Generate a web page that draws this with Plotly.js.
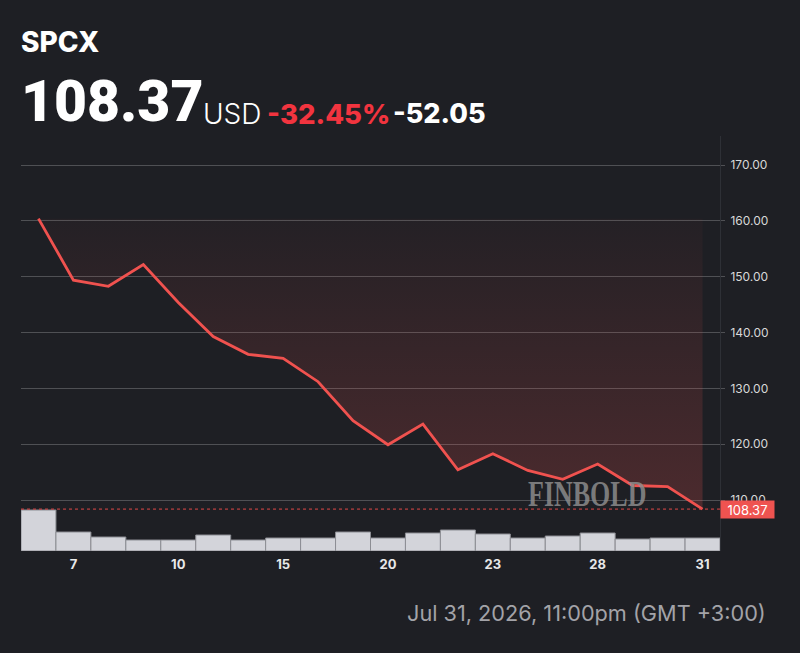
<!DOCTYPE html>
<html>
<head>
<meta charset="utf-8">
<script src="https://cdn.plot.ly/plotly-3.0.1.min.js"></script>
<style>
  html, body { margin: 0; padding: 0; background: #1e1f24; }
  #chart { width: 800px; height: 653px; }
</style>
</head>
<body>
<div id="chart"></div>
<script>
// ---- data ----
const ticker = 'SPCX';
const days = ['6','7','8','9','10','13','14','15','16','17','20','21','22','23','24','27','28','29','30','31'];
const price = [160.42, 149.4, 148.3, 152.2, 145.4, 139.3, 136.1, 135.4, 131.2, 124.2,
               119.9, 123.6, 115.4, 118.3, 115.3, 113.7, 116.45, 112.6, 112.4, 108.37];
const volume = [4.1, 1.9, 1.4, 1.1, 1.1, 1.6, 1.1, 1.3, 1.3, 1.9,
                1.3, 1.8, 2.1, 1.7, 1.3, 1.5, 1.8, 1.2, 1.3, 1.3];
const xTickLabels = ['7','10','15','20','23','28','31'];
const yTickValues = [110, 120, 130, 140, 150, 160, 170];
const lastPrice = '108.37';
const changePct = '-32.45%';
const changeAbs = '-52.05';
const currency = 'USD';
const timestamp = 'Jul 31, 2026, 11:00pm (GMT +3:00)';
const watermark = 'FINBOLD';

// ---- layout helpers (pixel -> paper) ----
const M = {l: 21, r: 80, t: 136, b: 102};
const W = 800, H = 653;
const PW = W - M.l - M.r, PH = H - M.t - M.b;
const px = x => (x - M.l) / PW;
const py = y => (H - M.b - y) / PH;

const pMax = Math.max(...price), pMin = Math.min(...price);
const RED = '#f0524f';
const BG = '#1e1f24';

const traces = [
  {
    x: days, y: days.map(() => pMax), type: 'scatter', mode: 'lines',
    line: {width: 0, color: 'rgba(0,0,0,0)'}, hoverinfo: 'skip'
  },
  {
    x: days, y: price, type: 'scatter', mode: 'lines',
    line: {color: RED, width: 2.8},
    fill: 'tonexty',
    fillcolor: 'rgba(239,83,80,0.12)',
    fillgradient: {
      type: 'vertical',
      start: pMin, stop: pMax,
      colorscale: [[0, 'rgba(239,83,80,0.22)'], [1, 'rgba(239,83,80,0.03)']]
    }
  },
  {
    x: days, y: volume, type: 'bar', yaxis: 'y2',
    marker: {color: '#d3d4da', line: {color: '#8c8d93', width: 1}}
  }
];

const layout = {
  width: W, height: H,
  margin: M,
  paper_bgcolor: BG, plot_bgcolor: BG,
  showlegend: false,
  bargap: 0,
  font: {family: 'Inter, "Noto Sans", sans-serif', color: '#e0e0e0'},
  xaxis: {
    type: 'category', range: [-0.5, days.length - 0.5],
    tickvals: xTickLabels, ticktext: xTickLabels,
    showgrid: false, zeroline: false, showline: false, ticks: '',
    ticklabelstandoff: 4,
    tickfont: {family: 'Inter, sans-serif', size: 13, color: '#e8e8e8', weight: 700}
  },
  yaxis: {
    side: 'right', range: [100.86, 175.23],
    tickvals: yTickValues, tickformat: '.2f',
    showgrid: true, gridcolor: 'rgba(255,255,255,0.22)', gridwidth: 1,
    zeroline: false,
    ticks: 'outside', ticklen: 4, tickcolor: 'rgba(255,255,255,0.22)',
    ticklabelstandoff: 3,
    showline: true, linecolor: '#2e3036', linewidth: 1,
    tickfont: {family: 'Inter, sans-serif', size: 12, color: '#d8d8d8'}
  },
  yaxis2: {
    overlaying: 'y', range: [0, 41.5], visible: false, fixedrange: true
  },
  shapes: [
    {type: 'line', xref: 'paper', x0: 0, x1: 1, yref: 'y', y0: +lastPrice, y1: +lastPrice,
     line: {color: '#e04848', width: 1, dash: 'dot'}}
  ],
  annotations: [
    {text: watermark, xref: 'paper', yref: 'paper', x: px(587), y: py(494),
     xanchor: 'center', yanchor: 'middle', showarrow: false,
     font: {family: '"Liberation Serif", "DejaVu Serif", serif', size: 26, weight: 700, color: 'rgba(140,140,140,0.85)'}},
    {text: lastPrice, xref: 'paper', yref: 'y', x: 1, y: +lastPrice,
     xanchor: 'left', yanchor: 'middle', showarrow: false,
     bgcolor: '#ef5350', borderpad: 2, width: 49, height: 13, align: 'center',
     font: {family: 'Inter, sans-serif', size: 13, color: '#ffffff'}},
    {text: ticker, xref: 'paper', yref: 'paper', x: px(19), y: py(42),
     xanchor: 'left', yanchor: 'middle', showarrow: false,
     font: {family: 'Inter, sans-serif', size: 28, color: '#ffffff', weight: 800}},
    {text: lastPrice, xref: 'paper', yref: 'paper', x: px(19), y: py(102),
     xanchor: 'left', yanchor: 'middle', showarrow: false,
     font: {family: 'Roboto, Inter, sans-serif', size: 57, color: '#ffffff', weight: 900}},
    {text: currency, xref: 'paper', yref: 'paper', x: px(201), y: py(114),
     xanchor: 'left', yanchor: 'middle', showarrow: false,
     font: {family: 'Inter, sans-serif', size: 28, color: '#ffffff', weight: 300}},
    {text: changePct, xref: 'paper', yref: 'paper', x: px(265), y: py(114),
     xanchor: 'left', yanchor: 'middle', showarrow: false,
     font: {family: 'Inter, sans-serif', size: 27.5, color: '#f2343f', weight: 800}},
    {text: changeAbs, xref: 'paper', yref: 'paper', x: px(391), y: py(114),
     xanchor: 'left', yanchor: 'middle', showarrow: false,
     font: {family: 'Inter, sans-serif', size: 27, color: '#ffffff', weight: 800}},
    {text: timestamp, xref: 'paper', yref: 'paper', x: px(768), y: py(613),
     xanchor: 'right', yanchor: 'middle', showarrow: false,
     font: {family: 'Inter, sans-serif', size: 21.7, color: '#a3a3a8', weight: 400}}
  ]
};

Plotly.newPlot('chart', traces, layout, {staticPlot: true, displayModeBar: false}).then(gd => {
  // stretch the watermark vertically to mimic its condensed display face
  gd.querySelectorAll('.annotation-text').forEach(t => {
    if (t.textContent === watermark) {
      t.style.transformBox = 'fill-box';
      t.style.transformOrigin = 'center';
      t.style.transform = 'scaleY(1.4)';
    }
  });
});
</script>
</body>
</html>
